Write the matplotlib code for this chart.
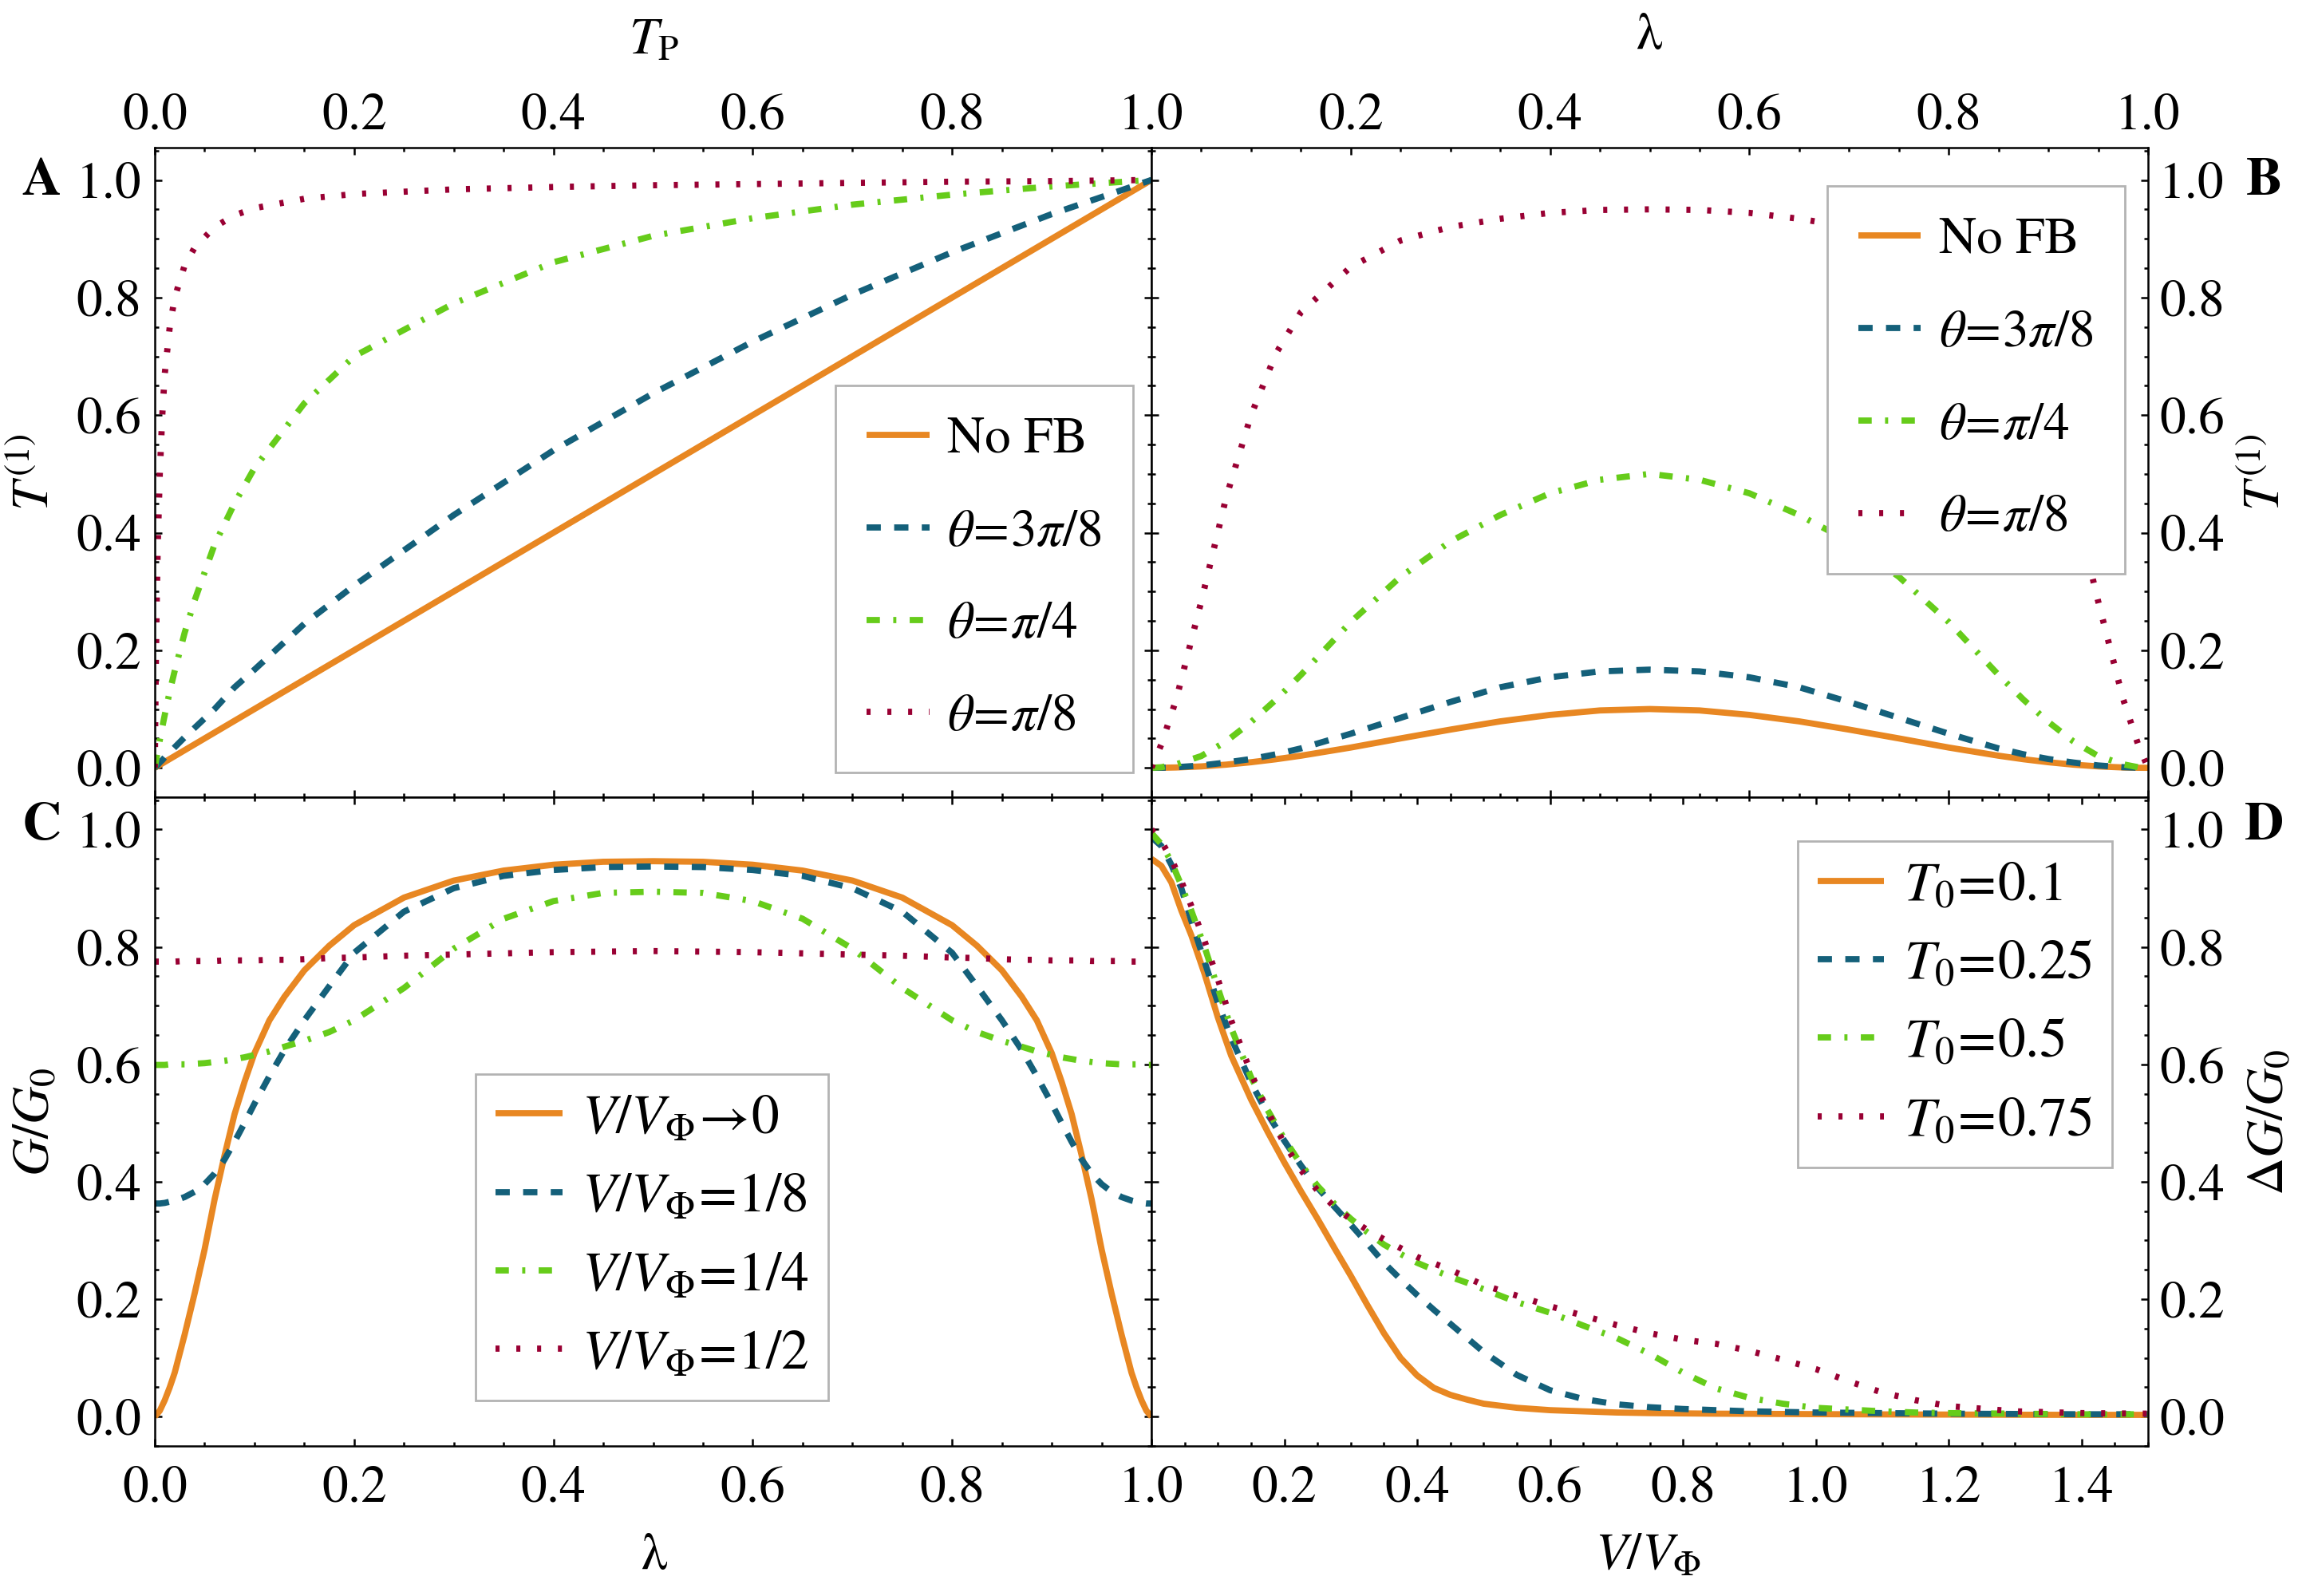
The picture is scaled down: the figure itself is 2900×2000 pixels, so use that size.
import matplotlib
matplotlib.use('Agg')
import matplotlib.pyplot as plt
from matplotlib.ticker import MultipleLocator, FuncFormatter

# ---- panel A: T^(1) vs T_P ----
x_tp = [0, 0.001, 0.002, 0.003, 0.005, 0.0075, 0.01, 0.015, 0.02, 0.03, 0.04, 0.06,
        0.08, 0.1, 0.15, 0.2, 0.3, 0.4, 0.5, 0.6, 0.7, 0.8, 0.9, 1.0]
a_nofb = [0, 0.001, 0.002, 0.003, 0.005, 0.0075, 0.01, 0.015, 0.02, 0.03, 0.04, 0.06,
          0.08, 0.1, 0.15, 0.2, 0.3, 0.4, 0.5, 0.6, 0.7, 0.8, 0.9, 1.0]
a_3pi8 = [0, 0.0018, 0.0035, 0.005, 0.009, 0.013, 0.018, 0.026, 0.035, 0.052, 0.068, 0.1,
          0.137, 0.167, 0.245, 0.31, 0.43, 0.54, 0.637, 0.725, 0.805, 0.877, 0.942, 1.0]
a_pi4 = [0, 0.01, 0.019, 0.028, 0.047, 0.069, 0.09, 0.13, 0.165, 0.23, 0.285, 0.38,
         0.45, 0.51, 0.62, 0.70, 0.79, 0.86, 0.905, 0.935, 0.958, 0.975, 0.989, 1.0]
a_pi8 = [0, 0.17, 0.29, 0.38, 0.5, 0.6, 0.67, 0.75, 0.8, 0.855, 0.885, 0.92,
         0.94, 0.952, 0.968, 0.976, 0.984, 0.988, 0.991, 0.993, 0.995, 0.997, 0.998, 1.0]

# ---- panel B: T^(1) vs lambda ----
x_lam_b = [0, 0.01, 0.025, 0.05, 0.075, 0.1, 0.125, 0.15, 0.2, 0.25, 0.3, 0.35, 0.4, 0.45, 0.5,
           0.55, 0.6, 0.65, 0.7, 0.75, 0.8, 0.85, 0.875, 0.9, 0.925, 0.95, 0.975, 0.99, 1.0]
b_nofb = [0, 0.0001, 0.0006, 0.0024, 0.0054, 0.0095, 0.0146, 0.0206, 0.0345, 0.05, 0.065, 0.079, 0.09, 0.0976, 0.1,
          0.0976, 0.09, 0.079, 0.065, 0.05, 0.0345, 0.0206, 0.0146, 0.0095, 0.0054, 0.0024, 0.0006, 0.0001, 0]
b_3pi8 = [0, 0.0002, 0.001, 0.004, 0.009, 0.015, 0.023, 0.033, 0.058, 0.085, 0.112, 0.137, 0.154, 0.164, 0.167,
          0.164, 0.154, 0.137, 0.112, 0.085, 0.058, 0.033, 0.023, 0.015, 0.009, 0.004, 0.001, 0.0002, 0]
b_pi4 = [0, 0.001, 0.006, 0.02, 0.045, 0.078, 0.116, 0.158, 0.248, 0.325, 0.385, 0.43, 0.467, 0.49, 0.5,
         0.49, 0.467, 0.43, 0.385, 0.325, 0.248, 0.158, 0.116, 0.078, 0.045, 0.02, 0.006, 0.001, 0]
b_pi8 = [0, 0.04, 0.117, 0.283, 0.46, 0.6, 0.705, 0.775, 0.852, 0.897, 0.92, 0.934, 0.944, 0.949, 0.95,
         0.949, 0.944, 0.934, 0.92, 0.897, 0.852, 0.775, 0.705, 0.6, 0.46, 0.283, 0.117, 0.04, 0]

# ---- panel C: G/G0 vs lambda ----
x_lam_c = [0, 0.005, 0.01, 0.015, 0.02, 0.03, 0.04, 0.05, 0.06, 0.07, 0.08, 0.09, 0.1, 0.115, 0.13,
           0.15, 0.175, 0.2, 0.25, 0.3, 0.35, 0.4, 0.45, 0.5,
           0.55, 0.6, 0.65, 0.7, 0.75, 0.8, 0.825, 0.85, 0.87, 0.885, 0.9, 0.91, 0.92, 0.93,
           0.94, 0.95, 0.96, 0.97, 0.98, 0.985, 0.99, 0.995, 1.0]
c_v0 = [0, 0.01, 0.028, 0.05, 0.075, 0.14, 0.21, 0.285, 0.37, 0.445, 0.515, 0.57, 0.619, 0.675, 0.715,
        0.76, 0.802, 0.837, 0.884, 0.913, 0.93, 0.94, 0.945, 0.946,
        0.945, 0.94, 0.93, 0.913, 0.884, 0.837, 0.802, 0.76, 0.715, 0.675, 0.619, 0.57, 0.515, 0.445,
        0.37, 0.285, 0.21, 0.14, 0.075, 0.05, 0.028, 0.01, 0]
c_v18 = [0.363, 0.363, 0.364, 0.366, 0.368, 0.374, 0.383, 0.396, 0.414, 0.438, 0.468, 0.5, 0.533, 0.58, 0.624,
         0.675, 0.733, 0.79, 0.86, 0.9, 0.921, 0.931, 0.936, 0.937,
         0.936, 0.931, 0.921, 0.9, 0.86, 0.79, 0.733, 0.675, 0.624, 0.58, 0.533, 0.5, 0.468, 0.438,
         0.414, 0.396, 0.383, 0.374, 0.368, 0.366, 0.364, 0.363, 0.363]
c_v14 = [0.599, 0.599, 0.599, 0.6, 0.6, 0.6, 0.601, 0.602, 0.604, 0.606, 0.609, 0.612, 0.616, 0.622, 0.63,
         0.64, 0.655, 0.675, 0.73, 0.797, 0.848, 0.878, 0.892, 0.894,
         0.892, 0.878, 0.848, 0.797, 0.73, 0.675, 0.655, 0.64, 0.63, 0.622, 0.616, 0.612, 0.609, 0.606,
         0.604, 0.602, 0.601, 0.6, 0.6, 0.6, 0.599, 0.599, 0.599]
c_v12 = [0.775, 0.775, 0.775, 0.775, 0.775, 0.776, 0.776, 0.776, 0.776, 0.777, 0.777, 0.777, 0.777, 0.778, 0.778,
         0.779, 0.781, 0.782, 0.785, 0.787, 0.789, 0.791, 0.792, 0.793,
         0.792, 0.791, 0.789, 0.787, 0.785, 0.782, 0.781, 0.779, 0.778, 0.778, 0.777, 0.777, 0.777, 0.777,
         0.776, 0.776, 0.776, 0.776, 0.775, 0.775, 0.775, 0.775, 0.775]

# ---- panel D: dG/G0 vs V/V_Phi ----
x_v = [0, 0.015, 0.03, 0.045, 0.06, 0.08, 0.1, 0.12, 0.15, 0.175, 0.2, 0.225, 0.25, 0.275, 0.3, 0.325,
       0.35, 0.375, 0.4, 0.425, 0.45, 0.475, 0.5, 0.55, 0.6, 0.65, 0.7, 0.75, 0.8, 0.85, 0.9, 0.95,
       1.0, 1.05, 1.1, 1.15, 1.2, 1.3, 1.4, 1.5]
d_t01 = [0.95, 0.938, 0.91, 0.862, 0.82, 0.754, 0.68, 0.615, 0.54, 0.485, 0.433, 0.384, 0.337, 0.288, 0.24, 0.19,
         0.142, 0.1, 0.07, 0.049, 0.037, 0.029, 0.022, 0.015, 0.011, 0.009, 0.007, 0.006, 0.0055, 0.005, 0.0048, 0.0045,
         0.0042, 0.004, 0.0038, 0.0036, 0.0035, 0.0032, 0.003, 0.003]
d_t025 = [0.987, 0.972, 0.94, 0.9, 0.845, 0.775, 0.705, 0.645, 0.569, 0.515, 0.47, 0.428, 0.39, 0.358, 0.327, 0.295,
          0.262, 0.234, 0.207, 0.182, 0.158, 0.134, 0.11, 0.071, 0.045, 0.03, 0.021, 0.016, 0.013, 0.011, 0.009, 0.008,
          0.007, 0.0065, 0.006, 0.0055, 0.005, 0.0045, 0.004, 0.004]
d_t05 = [0.994, 0.975, 0.945, 0.905, 0.862, 0.8, 0.73, 0.662, 0.578, 0.522, 0.473, 0.43, 0.393, 0.363, 0.337, 0.314,
         0.293, 0.277, 0.262, 0.25, 0.238, 0.228, 0.217, 0.195, 0.177, 0.155, 0.134, 0.107, 0.075, 0.048, 0.032, 0.022,
         0.015, 0.012, 0.009, 0.007, 0.006, 0.005, 0.004, 0.004]
d_t075 = [1.0, 0.98, 0.95, 0.912, 0.87, 0.81, 0.745, 0.675, 0.585, 0.52, 0.465, 0.42, 0.385, 0.358, 0.336, 0.318,
          0.302, 0.287, 0.272, 0.261, 0.25, 0.237, 0.224, 0.206, 0.188, 0.172, 0.156, 0.142, 0.131, 0.124, 0.112, 0.097,
          0.081, 0.06, 0.041, 0.028, 0.018, 0.009, 0.006, 0.005]

labels_ab = ['No FB', r'$\theta\!=\!3\pi/8$', r'$\theta\!=\!\pi/4$', r'$\theta\!=\!\pi/8$']
labels_c = [r'$V/V_{\Phi}\!\rightarrow\!0$', r'$V/V_{\Phi}\!=\!1/8$', r'$V/V_{\Phi}\!=\!1/4$', r'$V/V_{\Phi}\!=\!1/2$']
labels_d = [r'$T_0\!=\!0.1$', r'$T_0\!=\!0.25$', r'$T_0\!=\!0.5$', r'$T_0\!=\!0.75$']

colors = ['#E88722', '#14607A', '#66CC1A', '#990033']
LW = 2.8
styles = ['-', (0, (2.3, 2.15)), (0, (2.15, 2.15, 0.5, 2.15)), (0, (0.65, 2.7))]

plt.rcParams['font.family'] = ['STIXGeneral', 'DejaVu Serif']
plt.rcParams['mathtext.fontset'] = 'stix'
FS = 23.5
FS_LEG2 = 25

fig = plt.figure(figsize=(14.5, 10), dpi=200)
W, H = 2900, 2000
left, mid, right = 194, 1443, 2692
top, hmid, bottom = 185, 999, 1812
w = (mid - left) / W
axA = fig.add_axes([left / W, 1 - hmid / H, w, (hmid - top) / H])
axB = fig.add_axes([mid / W, 1 - hmid / H, w, (hmid - top) / H])
axC = fig.add_axes([left / W, 1 - bottom / H, w, (bottom - hmid) / H])
axD = fig.add_axes([mid / W, 1 - bottom / H, w, (bottom - hmid) / H])


def draw(ax, x, ys, labels):
    for y, c, ls, lab in zip(ys, colors, styles, labels):
        ax.plot(x, y, color=c, lw=LW, linestyle=ls, label=lab,
                dash_capstyle='butt', solid_capstyle='butt', solid_joinstyle='round')


draw(axA, x_tp, [a_nofb, a_3pi8, a_pi4, a_pi8], labels_ab)
draw(axB, x_lam_b, [b_nofb, b_3pi8, b_pi4, b_pi8], labels_ab)
draw(axC, x_lam_c, [c_v0, c_v18, c_v14, c_v12], labels_c)
draw(axD, x_v, [d_t01, d_t025, d_t05, d_t075], labels_d)

fmt = FuncFormatter(lambda v, p: '%.1f' % v)
fmt_skip0 = FuncFormatter(lambda v, p: '' if abs(v) < 1e-9 else '%.1f' % v)

for ax in (axA, axB, axC, axD):
    ax.set_ylim(-0.05, 1.055)
    ax.yaxis.set_major_locator(MultipleLocator(0.2))
    ax.yaxis.set_minor_locator(MultipleLocator(0.05))
    ax.xaxis.set_major_locator(MultipleLocator(0.2))
    ax.xaxis.set_minor_locator(MultipleLocator(0.05))
    ax.yaxis.set_major_formatter(fmt)
    ax.tick_params(which='both', direction='in', top=True, bottom=True, left=True, right=True,
                   labeltop=False, labelbottom=False, labelleft=False, labelright=False,
                   labelsize=FS, width=0.9)
    ax.tick_params(which='major', length=3.2)
    ax.tick_params(which='minor', length=1.8)
    for s in ax.spines.values():
        s.set_linewidth(0.9)

axA.set_xlim(0, 1)
axB.set_xlim(0, 1)
axC.set_xlim(0, 1)
axD.set_xlim(0, 1.5)
axA.xaxis.set_major_formatter(fmt)
axB.xaxis.set_major_formatter(fmt_skip0)
axC.xaxis.set_major_formatter(fmt)
axD.xaxis.set_major_formatter(fmt_skip0)

axA.tick_params(labeltop=True, labelleft=True)
axB.tick_params(labeltop=True, labelright=True)
axC.tick_params(labelbottom=True, labelleft=True)
axD.tick_params(labelbottom=True, labelright=True)
for ax in (axA, axB):
    ax.tick_params(axis='x', pad=3.5)
for ax in (axC, axD):
    ax.tick_params(axis='x', pad=9)
for ax in (axA, axC):
    ax.tick_params(axis='y', pad=6)
for ax in (axB, axD):
    ax.tick_params(axis='y', pad=5)

leg_kw = dict(frameon=True, fancybox=False, edgecolor='#b3b3b3', framealpha=1,
              loc='upper left', borderaxespad=0, handlelength=1.2, handletextpad=0.35)
lA = axA.legend(bbox_to_anchor=(0.683, 0.634), fontsize=FS, labelspacing=0.86, borderpad=0.6, **leg_kw)
lB = axB.legend(bbox_to_anchor=(0.678, 0.941), fontsize=FS, labelspacing=0.86, borderpad=0.6, **leg_kw)
lC = axC.legend(bbox_to_anchor=(0.322, 0.573), fontsize=FS_LEG2, labelspacing=0.5, borderpad=0.36, **leg_kw)
lD = axD.legend(bbox_to_anchor=(0.6485, 0.932), fontsize=FS_LEG2, labelspacing=0.5, borderpad=0.36, **leg_kw)
for lg in (lA, lB, lC, lD):
    lg.get_frame().set_linewidth(1.0)

# axis titles
fig.text(819 / W, 1 - 52 / H, r'$T_{\mathrm{P}}$', fontsize=FS, ha='center', va='center')
fig.text(2066 / W, 1 - 46 / H, 'λ', fontsize=FS, ha='center', va='center')
fig.text(819 / W, 1 - 1951 / H, 'λ', fontsize=FS, ha='center', va='center')
fig.text(2066 / W, 1 - 1951 / H, r'$V/V_{\Phi}$', fontsize=FS, ha='center', va='center')
fig.text(46 / W, 1 - 592 / H, r'$T^{(1)}$', fontsize=FS, ha='center', va='center', rotation=90)
fig.text(2842 / W, 1 - 592 / H, r'$T^{(1)}$', fontsize=FS, ha='center', va='center', rotation=90)
fig.text(46 / W, 1 - 1406 / H, r'$G/G_0$', fontsize=FS, ha='center', va='center', rotation=90)
fig.text(2846 / W, 1 - 1406 / H, r'$\Delta G/G_0$', fontsize=FS, ha='center', va='center', rotation=90)

# panel letters
for lab, px, py in [('A', 52, 228), ('B', 2838, 228), ('C', 52, 1036), ('D', 2838, 1036)]:
    fig.text(px / W, 1 - py / H, lab, fontsize=FS + 1, fontweight='bold', ha='center', va='center')

fig.savefig('out.png', dpi=200)
